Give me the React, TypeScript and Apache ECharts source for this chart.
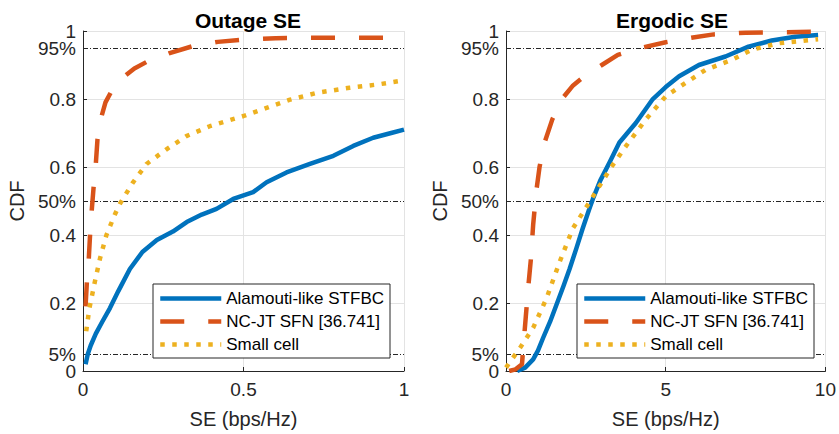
import { useEffect, useRef } from 'react';
import * as echarts from 'echarts';

// Series names shared by both panels
const seriesNames = ['Alamouti-like STFBC', 'NC-JT SFN [36.741]', 'Small cell'];

// Y-axis ticks (CDF): plain values plus the percentile marks
const yTickValues = [0, 0.2, 0.4, 0.6, 0.8, 1];
const yTickLabels = ['0', '0.2', '0.4', '0.6', '0.8', '1'];
const percentileValues = [0.05, 0.5, 0.95];
const percentileLabels = ['5%', '50%', '95%'];

// Outage SE panel (x in bps/Hz, y = CDF)
const outageStfbcX = [0.008, 0.015, 0.024, 0.04, 0.06, 0.084, 0.11, 0.146, 0.185, 0.23, 0.28, 0.323, 0.37, 0.416, 0.468, 0.53, 0.572, 0.634, 0.707, 0.78, 0.842, 0.904, 0.96, 1.0];
const outageStfbcY = [0.02, 0.05, 0.075, 0.11, 0.145, 0.185, 0.235, 0.3, 0.35, 0.385, 0.41, 0.438, 0.46, 0.477, 0.506, 0.526, 0.555, 0.584, 0.609, 0.633, 0.662, 0.686, 0.7, 0.71];

const outageSfnX = [0.008, 0.012, 0.018, 0.022, 0.027, 0.033, 0.04, 0.045, 0.055, 0.07, 0.09, 0.12, 0.16, 0.2, 0.27, 0.34, 0.42, 0.5, 0.6, 0.7, 1.0];
const outageSfnY = [0.19, 0.26, 0.33, 0.4, 0.47, 0.54, 0.61, 0.68, 0.74, 0.79, 0.825, 0.86, 0.89, 0.91, 0.935, 0.955, 0.968, 0.975, 0.979, 0.98, 0.98];

const outageSmallX = [0.01, 0.02, 0.037, 0.053, 0.073, 0.1, 0.115, 0.156, 0.198, 0.26, 0.322, 0.395, 0.5, 0.572, 0.645, 0.728, 0.83, 0.92, 1.0];
const outageSmallY = [0.117, 0.185, 0.263, 0.331, 0.4, 0.462, 0.492, 0.555, 0.609, 0.652, 0.691, 0.72, 0.75, 0.774, 0.798, 0.818, 0.833, 0.843, 0.855];

// Ergodic SE panel
const ergodicStfbcX = [0.35, 0.6, 0.85, 1.0, 1.16, 1.38, 1.58, 1.8, 1.99, 2.2, 2.4, 2.61, 2.72, 2.95, 3.24, 3.55, 4.07, 4.58, 5.0, 5.42, 6.04, 6.87, 7.59, 8.32, 9.05, 9.77];
const ergodicStfbcY = [0, 0.01, 0.034, 0.06, 0.097, 0.145, 0.195, 0.25, 0.3, 0.36, 0.419, 0.477, 0.506, 0.56, 0.613, 0.672, 0.73, 0.798, 0.835, 0.867, 0.9, 0.925, 0.954, 0.972, 0.983, 0.988];

const ergodicSfnX = [0.1, 0.3, 0.5, 0.55, 0.62, 0.7, 0.78, 0.85, 0.95, 1.05, 1.2, 1.45, 1.75, 2.1, 2.5, 3.0, 3.5, 4.2, 5.0, 5.8, 6.5, 7.5, 10];
const ergodicSfnY = [0, 0.005, 0.02, 0.08, 0.16, 0.25, 0.33, 0.43, 0.53, 0.6, 0.67, 0.74, 0.8, 0.84, 0.87, 0.9, 0.93, 0.95, 0.967, 0.98, 0.99, 0.995, 0.998];

const ergodicSmallX = [0, 0.44, 0.85, 1.27, 1.68, 2.09, 2.4, 2.7, 3.0, 3.3, 3.76, 4.38, 5.0, 5.62, 6.25, 7.07, 7.7, 8.53, 9.77];
const ergodicSmallY = [0.01, 0.068, 0.127, 0.214, 0.321, 0.419, 0.465, 0.51, 0.555, 0.6, 0.662, 0.74, 0.808, 0.847, 0.886, 0.915, 0.945, 0.964, 0.976];

const FONT = '"Liberation Sans", Arial, Helvetica, sans-serif';
const AXIS_COLOR = '#262626';
const GRID_COLOR = '#e3e3e3';
const COLORS = ['#0072BD', '#D95319', '#EDB120'];
const LINE_TYPES: any[] = ['solid', [24, 24], [4.5, 7.5]];
const LINE_WIDTH = 4.5;

const zip = (xs: number[], ys: number[]) => xs.map((x, i) => [x, ys[i]]);

const labelFor = (values: number[], labels: string[]) => (v: number) => {
  const i = values.findIndex((t) => Math.abs(t - v) < 1e-6);
  return i >= 0 ? labels[i] : '';
};

// Shared style of the CDF tick labels (tight line height so 0/5% and 95%/1 can sit close)
const yLabelStyle = {
  fontFamily: FONT,
  fontSize: 19,
  lineHeight: 15,
  color: AXIS_COLOR,
  margin: 7,
};

function makeXAxis(gridIndex: number, max: number, interval: number) {
  return {
    gridIndex,
    type: 'value',
    min: 0,
    max,
    interval,
    name: 'SE (bps/Hz)',
    nameLocation: 'middle',
    nameGap: 38,
    nameTextStyle: { fontFamily: FONT, fontSize: 20, color: AXIS_COLOR },
    axisLine: { show: true, lineStyle: { color: AXIS_COLOR, width: 1 } },
    axisTick: { show: true, inside: true, length: 4, lineStyle: { color: AXIS_COLOR } },
    axisLabel: { fontFamily: FONT, fontSize: 19, color: AXIS_COLOR, margin: 9 },
    splitLine: { show: true, lineStyle: { color: GRID_COLOR, width: 1 } },
  };
}

// Main CDF axis: grid lines every 0.2 and the plain tick labels
function makeYAxis(gridIndex: number) {
  return {
    gridIndex,
    type: 'value',
    min: 0,
    max: 1,
    interval: 0.2,
    name: 'CDF',
    nameLocation: 'middle',
    nameGap: 56,
    nameTextStyle: { fontFamily: FONT, fontSize: 20, color: AXIS_COLOR },
    axisLine: { show: true, lineStyle: { color: AXIS_COLOR, width: 1 } },
    axisTick: { show: true, inside: true, length: 4, lineStyle: { color: AXIS_COLOR } },
    axisLabel: {
      ...yLabelStyle,
      showMinLabel: true,
      showMaxLabel: true,
      formatter: labelFor(yTickValues, yTickLabels),
    },
    splitLine: { show: true, lineStyle: { color: GRID_COLOR, width: 1 } },
  };
}

// Overlay axis carrying only the percentile ticks (5%, 50%, 95%)
function makePercentAxis(gridIndex: number) {
  return {
    gridIndex,
    type: 'value',
    position: 'left',
    offset: 0,
    min: 0,
    max: 1,
    axisLine: { show: false },
    axisTick: {
      show: true,
      inside: true,
      length: 4,
      customValues: percentileValues,
      lineStyle: { color: AXIS_COLOR },
    },
    axisLabel: {
      ...yLabelStyle,
      customValues: percentileValues,
      formatter: labelFor(percentileValues, percentileLabels),
    },
    splitLine: { show: false },
  };
}

function makeSeries(gridIndex: number, datasets: number[][][]) {
  return datasets.map((data, k) => ({
    name: seriesNames[k],
    type: 'line',
    xAxisIndex: gridIndex,
    yAxisIndex: gridIndex,
    data,
    symbol: 'none',
    smooth: false,
    z: 3 + k,
    lineStyle: { color: COLORS[k], width: LINE_WIDTH, type: LINE_TYPES[k], cap: 'butt', join: 'round' },
    itemStyle: { color: COLORS[k] },
    markLine:
      k === 0
        ? {
            silent: true,
            z: 1,
            symbol: ['none', 'none'],
            label: { show: false },
            lineStyle: { color: AXIS_COLOR, width: 1, type: [5, 2, 1, 2] },
            emphasis: { disabled: true },
            data: percentileValues.map((v) => ({ yAxis: v })),
          }
        : undefined,
  }));
}

function makeLegend(left: number) {
  return {
    left,
    top: 284,
    orient: 'vertical',
    data: seriesNames,
    itemWidth: 61,
    itemHeight: 14,
    itemGap: 6,
    padding: [6, 6, 5, 5],
    backgroundColor: '#ffffff',
    borderColor: AXIS_COLOR,
    borderWidth: 1,
    borderRadius: 0,
    selectedMode: false,
    z: 10,
    // line samples only, no marker in the middle
    itemStyle: { opacity: 0, borderWidth: 0 },
    lineStyle: { width: LINE_WIDTH, cap: 'butt' },
    textStyle: { fontFamily: FONT, fontSize: 17, color: '#000000' },
  };
}

export default function App() {
  const ref = useRef<HTMLDivElement>(null);

  useEffect(() => {
    document.body.style.margin = '0';
    if (!ref.current) return;
    const chart = echarts.init(ref.current, undefined, { renderer: 'svg' });
    chart.setOption({
      animation: false,
      backgroundColor: '#ffffff',
      title: [
        {
          text: 'Outage SE',
          left: 243,
          top: 5,
          textAlign: 'center',
          textStyle: { fontFamily: FONT, fontSize: 21, fontWeight: 'bold', color: '#000000' },
        },
        {
          text: 'Ergodic SE',
          left: 667,
          top: 5,
          textAlign: 'center',
          textStyle: { fontFamily: FONT, fontSize: 21, fontWeight: 'bold', color: '#000000' },
        },
      ],
      legend: [makeLegend(153), makeLegend(577)],
      grid: [
        { left: 83, right: 435, top: 31, bottom: 61 },
        { left: 506, right: 12, top: 31, bottom: 61 },
      ],
      xAxis: [makeXAxis(0, 1, 0.5), makeXAxis(1, 10, 5)],
      yAxis: [makeYAxis(0), makeYAxis(1), makePercentAxis(0), makePercentAxis(1)],
      series: [
        ...makeSeries(0, [
          zip(outageStfbcX, outageStfbcY),
          zip(outageSfnX, outageSfnY),
          zip(outageSmallX, outageSmallY),
        ]),
        ...makeSeries(1, [
          zip(ergodicStfbcX, ergodicStfbcY),
          zip(ergodicSfnX, ergodicSfnY),
          zip(ergodicSmallX, ergodicSmallY),
        ]),
      ],
    });
    return () => chart.dispose();
  }, []);

  return <div ref={ref} style={{ width: 839, height: 434 }} />;
}
